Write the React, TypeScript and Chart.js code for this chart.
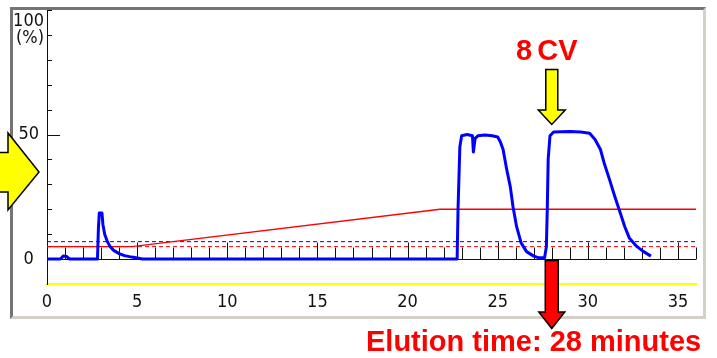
import React, { useEffect, useRef } from 'react';
import { Chart, registerables } from 'chart.js';

Chart.register(...registerables);

// UV trace (% of full scale) vs time (minutes)
const uvTime = [
  0, 0.75, 0.9, 1.1, 1.25, 2.8, 2.85, 2.9, 3.05, 3.1, 3.2, 3.35, 3.5, 3.7, 4.0, 4.3, 4.7, 5.0, 5.3,
  22.75, 22.8, 22.9, 23.0, 23.3, 23.6, 23.65, 23.75, 23.9, 24.3, 24.7, 25.0, 25.15, 25.3, 25.5, 25.7,
  25.85, 26.05, 26.3, 26.6, 27.0, 27.3, 27.6, 27.7, 27.75, 27.8, 27.9, 28.1, 29.0, 29.6, 30.1, 30.4,
  30.7, 30.9, 31.2, 31.5, 31.8, 32.05, 32.3, 32.7, 33.05, 33.5,
];
const uvPercent = [
  0, 0, 1.2, 1.0, 0, 0, 12, 18.5, 18.5, 14, 10, 7, 5, 3.5, 2.2, 1.4, 0.8, 0.4, 0,
  0, 20, 45, 49.5, 50, 49.5, 43, 48.5, 49.5, 49.8, 49.5, 49, 47, 44, 36, 29,
  21, 13, 6.5, 3, 1.2, 0.5, 0.5, 5, 20, 40, 49.5, 51, 51.2, 51, 50.5, 48,
  44, 38.7, 32, 25, 18.5, 13, 8.5, 5.2, 3.2, 1.2,
];

// Gradient (% B)
const gradientTime = [0, 4.7, 21.8, 36];
const gradientPercent = [5, 5, 20, 20];

// Threshold levels (dashed)
const levelTime = [0, 36];
const levelBlue = [7, 7];
const levelRed = [5, 5];

// Axis ticks / labels
const xTickLabels = [0, 5, 10, 15, 20, 25, 30, 35];
const yTickLabels = [0, 50];
const minuteMarks = [1, 2, 3, 4, 5, 6, 7, 8, 9, 10, 11, 12, 13, 14, 15, 16, 17, 18, 19, 20, 21, 22, 23, 24, 25, 26, 27, 28, 29, 30, 31, 32, 33, 34, 35, 36];
const percentMarks = [10, 20, 30, 40, 50, 60, 70, 80, 90, 100];
const elutionMinute = 28;
const pointerPercent = 35;

const tickFont = "'Liberation Sans Narrow', 'DejaVu Sans Condensed', 'Arial Narrow', sans-serif";

const pts = (xs: number[], ys: number[]) => xs.map((x, i) => ({ x, y: ys[i] }));

const axisMarks = {
  id: 'axisMarks',
  beforeDatasetsDraw(chart: any) {
    const { ctx, scales } = chart;
    const x = scales.x;
    const y = scales.y;
    const y0 = Math.round(y.getPixelForValue(0)) + 0.5;
    ctx.save();
    ctx.strokeStyle = '#111';
    ctx.lineWidth = 1;
    ctx.beginPath();
    ctx.moveTo(x.left, y0);
    ctx.lineTo(x.right, y0);
    for (const m of minuteMarks) {
      const px = Math.round(x.getPixelForValue(m)) + 0.5;
      const len = m % 5 === 0 ? 17 : 12;
      ctx.moveTo(px, y0);
      ctx.lineTo(px, y0 - len);
    }
    for (const v of percentMarks) {
      const py = Math.round(y.getPixelForValue(v)) + 0.5;
      const len = v === 50 ? 13 : 5;
      ctx.moveTo(x.left, py);
      ctx.lineTo(x.left + len, py);
    }
    ctx.stroke();
    ctx.restore();
  },
};

function downArrow(ctx: CanvasRenderingContext2D, cx: number, top: number, shaftW: number, shaftBottom: number, headW: number, tip: number, fill: string) {
  ctx.beginPath();
  ctx.moveTo(cx - shaftW / 2, top);
  ctx.lineTo(cx + shaftW / 2, top);
  ctx.lineTo(cx + shaftW / 2, shaftBottom);
  ctx.lineTo(cx + headW / 2, shaftBottom);
  ctx.lineTo(cx, tip);
  ctx.lineTo(cx - headW / 2, shaftBottom);
  ctx.lineTo(cx - shaftW / 2, shaftBottom);
  ctx.closePath();
  ctx.fillStyle = fill;
  ctx.fill();
  ctx.strokeStyle = '#000';
  ctx.lineWidth = 1.5;
  ctx.lineJoin = 'miter';
  ctx.stroke();
}

const arrows = {
  id: 'arrows',
  afterDraw(chart: any) {
    const { ctx, scales } = chart;
    const x = scales.x;
    const y = scales.y;
    const cx = x.getPixelForValue(elutionMinute);
    const y0 = y.getPixelForValue(0);
    ctx.save();
    downArrow(ctx, cx, 69.5, 12, 110, 27, 124.5, '#ffff00');
    downArrow(ctx, cx, y0 + 1.5, 13, 312, 26, 328.5, '#ff0000');
    // left pointer arrow toward the y axis
    const py = y.getPixelForValue(pointerPercent);
    ctx.beginPath();
    ctx.moveTo(-10, py - 19.5);
    ctx.lineTo(8, py - 19.5);
    ctx.lineTo(8, py - 39);
    ctx.lineTo(39, py);
    ctx.lineTo(8, py + 38);
    ctx.lineTo(8, py + 20);
    ctx.lineTo(-10, py + 20);
    ctx.closePath();
    ctx.fillStyle = '#ffff00';
    ctx.fill();
    ctx.strokeStyle = '#000';
    ctx.lineWidth = 1.5;
    ctx.stroke();
    ctx.restore();
  },
};

export default function App() {
  const ref = useRef<HTMLCanvasElement | null>(null);

  useEffect(() => {
    if (!ref.current) return;
    const chart = new Chart(ref.current, {
      type: 'line',
      data: {
        datasets: [
          {
            label: 'UV',
            data: pts(uvTime, uvPercent),
            borderColor: '#0000ff',
            borderWidth: 3,
            pointRadius: 0,
            tension: 0,
            borderJoinStyle: 'round',
          },
          {
            label: 'Gradient',
            data: pts(gradientTime, gradientPercent),
            borderColor: '#ff0000',
            borderWidth: 1.3,
            pointRadius: 0,
            tension: 0,
          },
          {
            label: 'Level blue',
            data: pts(levelTime, levelBlue),
            borderColor: '#0000ff',
            borderWidth: 1,
            borderDash: [4, 3],
            pointRadius: 0,
          },
          {
            label: 'Level red',
            data: pts(levelTime, levelRed),
            borderColor: '#ff0000',
            borderWidth: 1,
            borderDash: [4, 3],
            pointRadius: 0,
          },
        ],
      },
      options: {
        animation: false,
        responsive: false,
        maintainAspectRatio: false,
        layout: { padding: { left: 0, top: 10, right: 21, bottom: 44 } },
        plugins: { legend: { display: false }, tooltip: { enabled: false } },
        scales: {
          x: {
            type: 'linear',
            min: 0,
            max: 36,
            grid: { display: false, drawTicks: false },
            border: { display: true, color: '#ffff00', width: 2 },
            ticks: {
              padding: 8,
              color: '#111',
              font: { family: tickFont, size: 18 },
              maxRotation: 0,
            },
            afterBuildTicks: (s: any) => {
              s.ticks = xTickLabels.map((v) => ({ value: v }));
            },
            afterFit: (s: any) => {
              s.height = 30;
              s.paddingLeft = 0;
              s.paddingRight = 0;
            },
          },
          y: {
            type: 'linear',
            min: -10,
            max: 100,
            grid: { display: false, drawTicks: false },
            border: { display: true, color: '#111', width: 1 },
            ticks: {
              padding: 8,
              color: '#111',
              crossAlign: 'center',
              font: { family: tickFont, size: 18 },
            },
            afterBuildTicks: (s: any) => {
              s.ticks = yTickLabels.map((v) => ({ value: v }));
            },
            afterFit: (s: any) => {
              s.width = 47;
              s.paddingTop = 0;
              s.paddingBottom = 0;
            },
          },
        },
      },
      plugins: [axisMarks, arrows],
    });
    return () => chart.destroy();
  }, []);

  return (
    <div style={{ position: 'fixed', left: 0, top: 0, width: 717, height: 358, background: '#fff', overflow: 'hidden' }}>
      <div
        style={{
          position: 'absolute',
          left: 10,
          top: 7,
          width: 696,
          height: 312,
          boxSizing: 'border-box',
          borderTop: '3px solid #747474',
          borderLeft: '3px solid #747474',
          borderBottom: '3px solid #d4d0c8',
          borderRight: '3px solid #d4d0c8',
          background: '#fff',
        }}
      />
      <canvas ref={ref} width={717} height={358} style={{ position: 'absolute', left: 0, top: 0, display: 'block' }} />
      <div
        style={{
          position: 'absolute',
          left: 0,
          top: 11,
          width: 44,
          textAlign: 'right',
          fontFamily: tickFont,
          fontSize: 18,
          lineHeight: '17px',
          color: '#111',
        }}
      >
        <div>100</div>
        <div>(%)</div>
      </div>
      <div
        style={{
          position: 'absolute',
          left: 516,
          top: 36,
          fontFamily: "'Liberation Sans', Arial, sans-serif",
          fontWeight: 700,
          fontSize: 29,
          lineHeight: '29px',
          color: '#ff0000',
          wordSpacing: -3,
          whiteSpace: 'nowrap',
        }}
      >
        8 CV
      </div>
      <div
        style={{
          position: 'absolute',
          left: 366,
          top: 327,
          fontFamily: "'Liberation Sans', Arial, sans-serif",
          fontWeight: 700,
          fontSize: 29,
          lineHeight: '29px',
          color: '#ff0000',
          whiteSpace: 'nowrap',
        }}
      >
        Elution time: 28 minutes
      </div>
    </div>
  );
}
